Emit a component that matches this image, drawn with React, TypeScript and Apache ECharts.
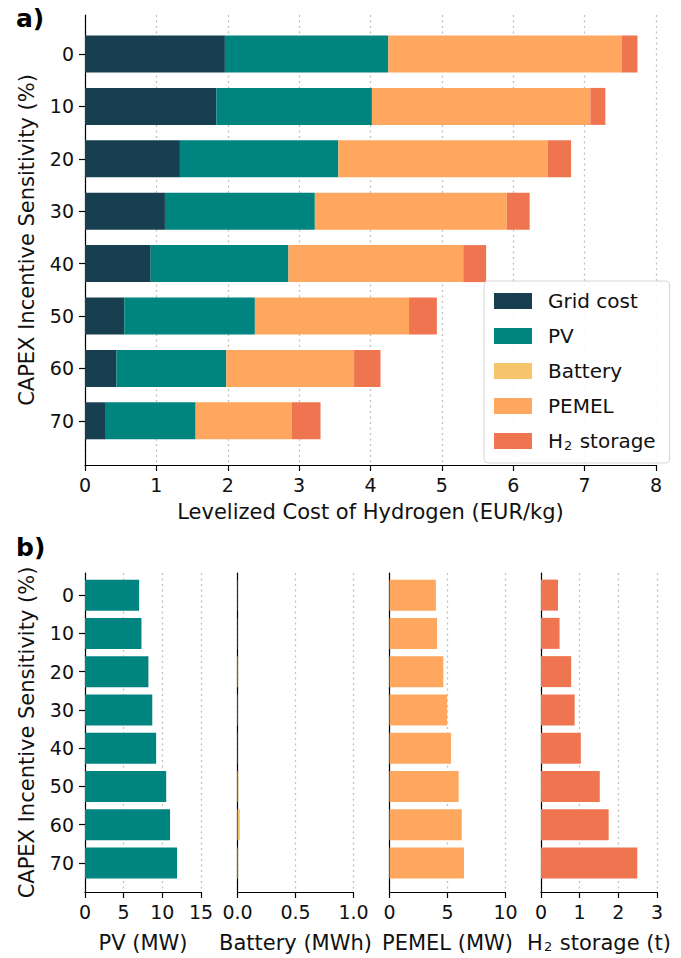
import React, { useEffect, useRef } from "react";
import * as echarts from "echarts";

const FONT = "DejaVu Sans";
const categories = ["0", "10", "20", "30", "40", "50", "60", "70"];

// Panel a) stacked LCOH components (EUR/kg)
const gridCost = [1.96, 1.84, 1.33, 1.12, 0.92, 0.55, 0.44, 0.28];
const pvCost = [2.29, 2.18, 2.22, 2.1, 1.93, 1.83, 1.54, 1.27];
const batteryCost = [0, 0, 0, 0, 0, 0, 0, 0];
const pemelCost = [3.27, 3.06, 2.93, 2.69, 2.45, 2.16, 1.79, 1.35];
const h2Cost = [0.22, 0.21, 0.33, 0.32, 0.32, 0.39, 0.37, 0.4];

// Panel b) capacities
const pvCap = [7.0, 7.3, 8.2, 8.7, 9.2, 10.5, 11.0, 11.9];
const batteryCap = [0.002, 0.002, 0.006, 0.003, 0.002, 0.008, 0.02, 0.006];
const pemelCap = [4.0, 4.1, 4.64, 4.97, 5.3, 5.96, 6.23, 6.42];
const h2Cap = [0.44, 0.48, 0.78, 0.87, 1.03, 1.52, 1.75, 2.49];

const xTicksTop = { min: 0, max: 8, interval: 1 };
const panelAxes = [
  { name: "PV (MW)", min: 0, max: 15, interval: 5, dec: 0 },
  { name: "Battery (MWh)", min: 0, max: 1, interval: 0.5, dec: 1 },
  { name: "PEMEL (MW)", min: 0, max: 10, interval: 5, dec: 0 },
  { name: "H{sub|2} storage (t)", min: 0, max: 3, interval: 1, dec: 0 },
];

const C_GRID = "#173f4f";
const C_PV = "#00847f";
const C_BAT = "#f6c46b";
const C_PEMEL = "#ffa75e";
const C_H2 = "#ef7551";

export default function App() {
  const ref = useRef<HTMLDivElement>(null);
  useEffect(() => {
    if (!ref.current) return;
    const chart = echarts.init(ref.current, null, { renderer: "svg" });
    const black = "#000";
    const TICK = 19;
    const TITLE = 21;
    const dotted = { show: true, lineStyle: { color: "#c0c0c0", type: [2, 3.5], width: 1.3 } };
    const rich = {
      sub: { fontSize: 13, fontFamily: FONT, color: "#111", verticalAlign: "bottom", lineHeight: 13, padding: [0, 1, 0, 1] },
    };

    const grids: any[] = [
      { left: 85, top: 15, width: 571, height: 450, outerBoundsMode: "none" },
      { left: 85, top: 27.8, width: 571, height: 419.2, outerBoundsMode: "none" },
    ];
    const xAxes: any[] = [
      {
        type: "value", gridIndex: 0, ...xTicksTop,
        axisLine: { show: true, lineStyle: { color: black, width: 1.2 } },
        axisTick: { show: true, length: 6, lineStyle: { color: black, width: 1.2 } },
        axisLabel: { fontFamily: FONT, fontSize: TICK, color: "#111", margin: 10 },
        splitLine: dotted,
        name: "Levelized Cost of Hydrogen (EUR/kg)", nameLocation: "middle", nameGap: 36,
        nameTextStyle: { fontFamily: FONT, fontSize: TITLE, color: "#111" },
      },
      { type: "value", gridIndex: 1, ...xTicksTop, show: false },
    ];
    const yAxes: any[] = [
      {
        type: "value", gridIndex: 0, min: 0, max: 1,
        axisLine: { show: true, lineStyle: { color: black, width: 1.2 } },
        axisTick: { show: false }, axisLabel: { show: false }, splitLine: { show: false },
        name: "CAPEX Incentive Sensitivity (%)", nameLocation: "middle", nameGap: 48,
        nameTextStyle: { fontFamily: FONT, fontSize: TITLE, color: "#111" },
      },
      {
        type: "category", gridIndex: 1, data: categories, inverse: true,
        axisLine: { show: false },
        axisTick: { show: true, alignWithLabel: true, length: 6, lineStyle: { color: black, width: 1.2 } },
        axisLabel: { fontFamily: FONT, fontSize: TICK, color: "#111", margin: 11 },
        splitLine: { show: false },
      },
    ];

    const panelLefts = [85, 237.5, 389.5, 541];
    panelAxes.forEach((p, i) => {
      grids.push({ left: panelLefts[i], top: 573, width: 116, height: 319, outerBoundsMode: "none" });
      grids.push({ left: panelLefts[i], top: 576, width: 116, height: 306, outerBoundsMode: "none" });
      const fg = 2 + 2 * i;
      xAxes.push({
        type: "value", gridIndex: fg, min: p.min, max: p.max, interval: p.interval,
        axisLine: { show: true, lineStyle: { color: black, width: 1.2 } },
        axisTick: { show: true, length: 6, lineStyle: { color: black, width: 1.2 } },
        axisLabel: {
          fontFamily: FONT, fontSize: TICK, color: "#111", margin: 10,
          formatter: (v: number) => v.toFixed(p.dec),
        },
        splitLine: dotted,
        name: p.name, nameLocation: "middle", nameGap: 40,
        nameTextStyle: { fontFamily: FONT, fontSize: TITLE, color: "#111", rich },
      });
      xAxes.push({ type: "value", gridIndex: fg + 1, min: p.min, max: p.max, show: false });
      yAxes.push({
        type: "value", gridIndex: fg, min: 0, max: 1,
        axisLine: { show: true, lineStyle: { color: black, width: 1.2 } },
        axisTick: { show: false }, axisLabel: { show: false }, splitLine: { show: false },
        name: i === 0 ? "CAPEX Incentive Sensitivity (%)" : "",
        nameLocation: "middle", nameGap: 48,
        nameTextStyle: { fontFamily: FONT, fontSize: TITLE, color: "#111" },
      });
      yAxes.push({
        type: "category", gridIndex: fg + 1, data: categories, inverse: true,
        axisLine: { show: false },
        axisTick: { show: i === 0, alignWithLabel: true, length: 6, lineStyle: { color: black, width: 1.2 } },
        axisLabel: { show: i === 0, fontFamily: FONT, fontSize: TICK, color: "#111", margin: 11 },
        splitLine: { show: false },
      });
    });

    const topSeries = [
      { name: "Grid cost", data: gridCost, color: C_GRID },
      { name: "PV", data: pvCost, color: C_PV },
      { name: "Battery", data: batteryCost, color: C_BAT },
      { name: "PEMEL", data: pemelCost, color: C_PEMEL },
      { name: "H2 storage", data: h2Cost, color: C_H2 },
    ].map((s) => ({
      type: "bar", name: s.name, data: s.data, stack: "lcoh",
      xAxisIndex: 1, yAxisIndex: 1, barWidth: 37,
      itemStyle: { color: s.color }, z: 3,
    }));

    const bottomData = [
      { name: "PV capacity", data: pvCap, color: C_PV },
      { name: "Battery capacity", data: batteryCap, color: C_BAT },
      { name: "PEMEL capacity", data: pemelCap, color: C_PEMEL },
      { name: "H2 storage capacity", data: h2Cap, color: C_H2 },
    ];
    const bottomSeries = bottomData.map((s, i) => ({
      type: "bar", name: s.name, data: s.data,
      xAxisIndex: 3 + 2 * i, yAxisIndex: 3 + 2 * i, barWidth: 31,
      itemStyle: { color: s.color }, z: 3,
    }));

    chart.setOption({
      animation: false,
      backgroundColor: "#fff",
      textStyle: { fontFamily: FONT },
      grid: grids,
      xAxis: xAxes,
      yAxis: yAxes,
      legend: {
        data: ["Grid cost", "PV", "Battery", "PEMEL", "H2 storage"],
        orient: "vertical",
        left: 484, top: 281,
        itemWidth: 38, itemHeight: 16, itemGap: 13,
        padding: [9, 14, 11, 10],
        backgroundColor: "rgba(255,255,255,0.85)",
        borderColor: "#d6d6d6", borderWidth: 1, borderRadius: 4,
        icon: "rect",
        formatter: (n: string) => (n === "H2 storage" ? "H{sub|2} storage" : n),
        textStyle: { fontFamily: FONT, fontSize: 20, lineHeight: 22, color: "#111", padding: [0, 0, 0, 11], rich },
        selectedMode: false,
      },
      graphic: [
        { type: "text", left: 16, top: 6, style: { text: "a)", fontFamily: FONT, fontSize: 25, fontWeight: "bold", fill: "#000" } },
        { type: "text", left: 16, top: 535, style: { text: "b)", fontFamily: FONT, fontSize: 25, fontWeight: "bold", fill: "#000" } },
      ],
      series: [...topSeries, ...bottomSeries],
    });
    return () => chart.dispose();
  }, []);
  return <div ref={ref} style={{ width: 681, height: 958, position: "absolute", left: 0, top: 0 }} />;
}
